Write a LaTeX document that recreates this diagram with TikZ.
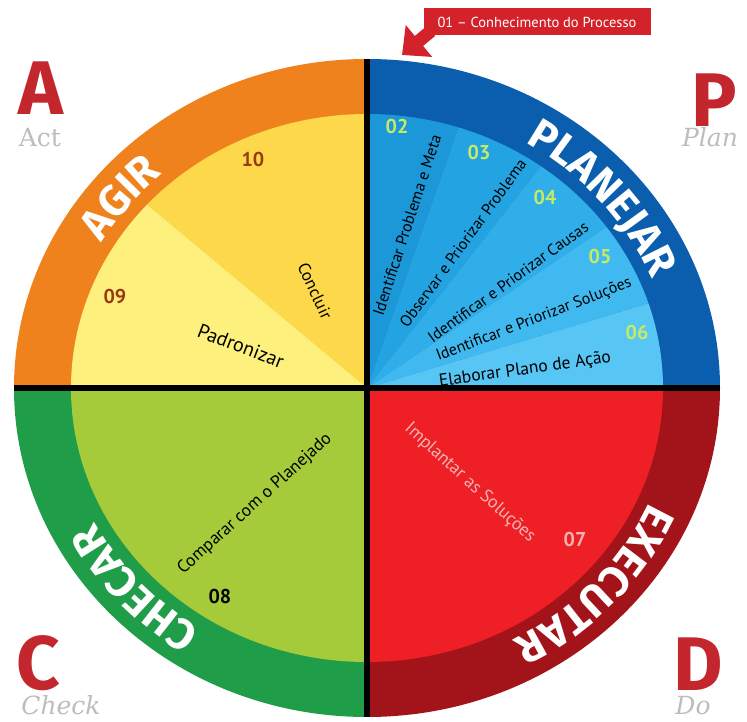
\documentclass[tikz,border=0pt]{standalone}
\usepackage{fontspec}
\setmainfont{PT Sans}
\newfontfamily\heavyfont{Fira Sans}
\newfontfamily\tagfont{DejaVu Serif}
\usetikzlibrary{arrows.meta,decorations.text,positioning}
\definecolor{ringA}{HTML}{F0821E}
\definecolor{ringP}{HTML}{0B5DAE}
\definecolor{ringD}{HTML}{A3141A}
\definecolor{ringC}{HTML}{1F9D48}
\definecolor{yelA}{HTML}{FDD84A}
\definecolor{yelB}{HTML}{FEF07C}
\definecolor{bluA}{HTML}{1C97D8}
\definecolor{bluB}{HTML}{24A3E2}
\definecolor{bluC}{HTML}{30AEE9}
\definecolor{bluD}{HTML}{3FB9EF}
\definecolor{bluE}{HTML}{58C6F4}
\definecolor{redD}{HTML}{EE1F25}
\definecolor{limeC}{HTML}{A6CB3A}
\definecolor{letterred}{HTML}{C4262E}
\definecolor{taggray}{HTML}{BDBDBD}
\definecolor{numlime}{HTML}{C5EB63}
\definecolor{numbrown}{HTML}{9A3A12}
\definecolor{pinktxt}{HTML}{F6B3B3}
\definecolor{boxred}{HTML}{D3222A}
% outer and inner ellipse of the wheel
\def\outerX{353}\def\outerY{329}
\def\innerX{296}\def\innerY{274}
\newcommand\ringfont{\heavyfont\bfseries\fontsize{43}{43}\selectfont}
\tikzset{
	steptext/.style={font=\fontsize{16}{16}\selectfont, inner sep=0pt},
	stepnum/.style={font=\bfseries\fontsize{20}{20}\selectfont, inner sep=0pt},
	bigletter/.style={font=\heavyfont\bfseries\fontsize{76}{76}\selectfont, text=letterred, inner sep=0pt, text depth=0pt},
	phase/.style={font=\tagfont\itshape\fontsize{25}{25}\selectfont, text=taggray, inner sep=0pt, text depth=0pt},
	ringlabel/.style={decorate, decoration={text along path, text align=center, text color=white, text={|\ringfont|#1}}},
}

\begin{document}
\begin{tikzpicture}[x=1pt,y=1pt]
	\useasboundingbox[fill=white] (-367,-334) rectangle (380,388);
	% ring quadrants
	\foreach \a/\b/\c in {90/180/ringA,0/90/ringP,-90/0/ringD,180/270/ringC}
		\fill[\c] (0,0) -- (\a:\outerX pt and \outerY pt) arc[start angle=\a, end angle=\b, x radius=\outerX, y radius=\outerY] -- cycle;
	% inner sectors
	\fill[yelA] (0,0) -- (90:\innerX pt and \innerY pt) arc[start angle=90, end angle=138, x radius=\innerX, y radius=\innerY] -- cycle;
	\fill[yelB] (0,0) -- (138:\innerX pt and \innerY pt) arc[start angle=138, end angle=180, x radius=\innerX, y radius=\innerY] -- cycle;
	\foreach \a/\b/\c in {72/90/bluA,54/72/bluB,36/54/bluC,18/36/bluD,0/18/bluE}
		\fill[\c] (0,0) -- (\a:\innerX pt and \innerY pt) arc[start angle=\a, end angle=\b, x radius=\innerX, y radius=\innerY] -- cycle;
	\fill[redD] (0,0) -- (-90:\innerX pt and \innerY pt) arc[start angle=-90, end angle=0, x radius=\innerX, y radius=\innerY] -- cycle;
	\fill[limeC] (0,0) -- (180:\innerX pt and \innerY pt) arc[start angle=180, end angle=270, x radius=\innerX, y radius=\innerY] -- cycle;
	\draw[line width=6] (0,\outerY) -- (0,-\outerY) (-\outerX,0) -- (\outerX,0);
	% ring labels, read clockwise
	\path[ringlabel=AGIR] (172:308pt and 286pt) arc[start angle=172, end angle=110, x radius=308, y radius=286];
	\path[ringlabel=PLANEJAR] (80:308pt and 286pt) arc[start angle=80, end angle=0, x radius=308, y radius=286];
	\path[ringlabel=EXECUTAR] (-2:308pt and 286pt) arc[start angle=-2, end angle=-82, x radius=308, y radius=286];
	\path[ringlabel=CHECAR] (-100:308pt and 286pt) arc[start angle=-100, end angle=-176, x radius=308, y radius=286];
	% act
	\node[stepnum, text=numbrown] (n10) at (-114,228) {10};
	\node[stepnum, text=numbrown] (n09) at (-252,91) {09};
	\node[steptext, font=\fontsize{17}{17}\selectfont, rotate=-65] (s10) at (-52,97) {Concluir};
	\node[steptext, font=\fontsize{20}{20}\selectfont, rotate=-21] (s09) at (-126,42) {Padronizar};
	% plan
	\node[stepnum, text=numlime] (n02) at (30,261) {02};
	\node[stepnum, text=numlime] (n03) at (112,235) {03};
	\node[stepnum, text=numlime] (n04) at (178,190) {04};
	\node[stepnum, text=numlime] (n05) at (233,131) {05};
	\node[stepnum, text=numlime] (n06) at (270,55) {06};
	\node[steptext, rotate=72] (s02) at (40,163) {Identificar Problema e Meta};
	\node[steptext, rotate=54] (s03) at (96,145) {Observar e Priorizar Problema};
	\node[steptext, rotate=36] (s04) at (141,106) {Identificar e Priorizar Causas};
	\node[steptext, rotate=21] (s05) at (167,68) {Identificar e Priorizar Soluções};
	\node[steptext, font=\fontsize{17.5}{17.5}\selectfont, rotate=8] (s06) at (158,18) {Elaborar Plano de Ação};
	% do
	\node[steptext, font=\fontsize{18}{18}\selectfont, text=pinktxt, rotate=-42] (s07) at (103,-95) {Implantar as Soluções};
	\node[stepnum, text=pinktxt] (n07) at (208,-152) {07};
	% check
	\node[steptext, font=\fontsize{17.5}{17.5}\selectfont, rotate=42] (s08) at (-112,-116) {Comparar com o Planejado};
	\node[stepnum] (n08) at (-147,-209) {08};
	% corner letters
	\node[bigletter] (A) at (-326,300) {A};
	\node[phase, font=\tagfont\fontsize{25}{25}\selectfont] (act) at (-327,251) {Act};
	\node[bigletter] (P) at (347,288) {P};
	\node[phase] (plan) at (343,251) {Plan};
	\node[bigletter] (C) at (-329,-275) {C};
	\node[phase] (check) at (-306,-317) {Check};
	\node[bigletter] (D) at (331,-276) {D};
	\node[phase] (do) at (326,-317) {Do};
	% step 01 tag
	\coordinate (tail) at (64,357);
	\coordinate (tip) at (35,333);
	\draw[boxred, line width=13, -{Triangle[length=22pt,width=40pt]}] (tail) -- (tip);
	\node[fill=boxred, text=white, minimum width=227, minimum height=27, font=\fontsize{14.5}{14.5}\selectfont] (conh) at (170,366) {01 -- Conhecimento do Processo};
\end{tikzpicture}
\end{document}
